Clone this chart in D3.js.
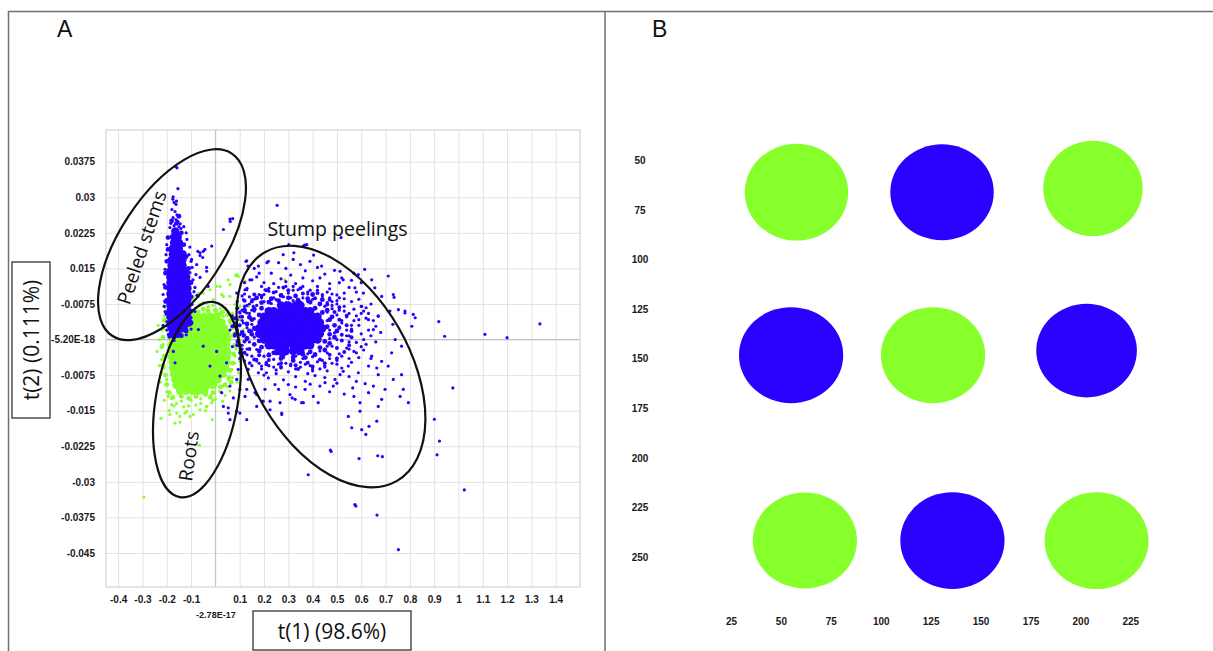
<!DOCTYPE html>
<html>
<head>
<meta charset="utf-8">
<script src="https://cdn.jsdelivr.net/npm/d3@7"></script>
<style>
body { margin: 0; background: #fff; }
svg { display: block; }
.tick-lbl { font-family: "Liberation Sans", Arial, sans-serif; font-size: 10px; font-weight: bold; fill: #1a1a1a; }
.note { font-family: "Open Sans", sans-serif; fill: #111; }
.panel-lbl { font-family: "Liberation Sans", Arial, sans-serif; font-size: 23px; fill: #111; }
</style>
</head>
<body>
<svg id="chart" width="1213" height="651"></svg>
<script>
// ---- panel A data (t(1) given in 1/100, t(2) given in 1/10000) ----
var T1_UNIT = 0.01;
var T2_UNIT = 0.0001;

var xTicks = [-0.4,-0.3,-0.2,-0.1,0,0.1,0.2,0.3,0.4,0.5,0.6,0.7,0.8,0.9,1,1.1,1.2,1.3,1.4];
var xTickLabels = ["-0.4","-0.3","-0.2","-0.1","-2.78E-17","0.1","0.2","0.3","0.4","0.5","0.6","0.7","0.8","0.9","1","1.1","1.2","1.3","1.4"];
var yTicks = [0.0375,0.03,0.0225,0.015,0.0075,0,-0.0075,-0.015,-0.0225,-0.03,-0.0375,-0.045];
var yTickLabels = ["0.0375","0.03","0.0225","0.015","-0.0075","-5.20E-18","-0.0075","-0.015","-0.0225","-0.03","-0.0375","-0.045"];

// dense cores, rows of [t2, [t1 ...]]
var rootsCoreRows = [
  [48,[-12,-9.5,-7,-4.5,-2,0.5]],
  [36,[-15,-12.5,-10,-7.5,-5,-2.5,0,2.5]],
  [24,[-16.5,-14,-11.5,-9,-6.5,-4,-1.5,1,3.5]],
  [12,[-17,-14.5,-12,-9.5,-7,-4.5,-2,0.5,3,4.5]],
  [0,[-17.5,-15,-12.5,-10,-7.5,-5,-2.5,0,2.5,4.8]],
  [-12,[-18,-15.5,-13,-10.5,-8,-5.5,-3,-0.5,2,4.5]],
  [-24,[-18,-15.5,-13,-10.5,-8,-5.5,-3,-0.5,2,4.7]],
  [-36,[-18,-15.5,-13,-10.5,-8,-5.5,-3,-0.5,2,4.7]],
  [-48,[-17.5,-15,-12.5,-10,-7.5,-5,-2.5,0,2.5,4.5]],
  [-60,[-17.5,-15,-12.5,-10,-7.5,-5,-2.5,0,2.5,4]],
  [-72,[-17,-14.5,-12,-9.5,-7,-4.5,-2,0.5,3]],
  [-84,[-16.5,-14,-11.5,-9,-6.5,-4,-1.5,1]],
  [-96,[-16,-13.5,-11,-8.5,-6,-3.5,-1]],
  [-108,[-14.5,-12,-9.5,-7,-4.5]]
];
var stumpCoreRows = [
  [72,[27,30,33,35]],
  [60,[22,24,27,29,32,34,37,39]],
  [48,[20,22,25,27,30,32,35,37,40,42]],
  [36,[19,21,24,26,29,31,34,36,39,41,43]],
  [24,[18,20,23,25,28,30,33,35,38,40,42,44]],
  [12,[18,21,23,26,28,31,33,36,38,41,43]],
  [0,[20,22,25,27,30,32,35,37,40,42]],
  [-12,[22,24,27,29,32,34,37,39]],
  [-24,[26,29,32,35]]
];
var stemsCoreRows = [
  [228,[-16.5]], [216,[-17,-15.5]], [204,[-17,-15]], [192,[-17.5,-15]],
  [180,[-17.5,-15,-13.5]], [168,[-18,-15.5,-13.5]], [156,[-18,-16,-13.5]],
  [144,[-18.5,-16,-13.5,-12.5]], [132,[-18.5,-16,-13.5,-12]],
  [120,[-18.5,-16,-13.5,-11.5]], [108,[-18.5,-16,-13.5,-11.5]], [96,[-18.5,-16,-13.5,-11.5]],
  [84,[-18.5,-16,-13.5,-11.5]], [72,[-18.5,-16,-13.5,-11.5]], [60,[-18.5,-16,-13.5,-11.5]],
  [48,[-18.5,-16,-13.5,-11.5]], [36,[-18,-15.5,-13,-11]], [24,[-18,-15.5,-13]], [12,[-17.5,-15.5]]
];

// crowded edges around the cores
var blueHalo =
  "46,27 47,42 44,57 41,66 39,79 34,83 30,88 26,82 22,79 19,66 18,52 15,42 16,24 15,11 18,-3 19,-16 " +
  "24,-28 28,-32 32,-37 36,-31 39,-26 43,-17 45,-4 47,11 " +
  "49,30 48,48 46,62 43,75 38,86 33,92 27,93 23,86 19,78 16,64 14,47 13,33 14,18 13,3 16,-10 18,-24 " +
  "22,-33 27,-40 32,-44 37,-38 41,-32 45,-22 47,-8 49,5 50,18 17,88 40,95 44,84 12,60 11,15 " +
  "-19.5,215 -14,225 -19.5,190 -13,200 -20,165 -12,175 -20.5,140 -11,150 -20.5,110 -10,120 -20.5,80 " +
  "-10,90 -20,55 -10,60 -19.5,30 -10,35 -19,10 -12,18 -16,245 -18,250 -15,260 -17,5 -14,8";
var blueHaloOuter =
  "51,25 51,42 49,58 46,74 41,87 36,97 30,104 24,99 19,92 15,80 12,64 11,48 10,30 11,12 12,-4 14,-20 " +
  "18,-33 22,-43 27,-50 33,-54 38,-49 43,-42 47,-32 50,-18 52,-2 52,10 " +
  "54,30 54,50 51,68 47,84 42,98 35,108 28,110 21,104 16,95 12,82 9,66 8,45 7,28 8,8 9,-12 12,-28 " +
  "16,-42 21,-52 27,-58 34,-62 40,-57 45,-50 50,-40 53,-26 55,-12 56,5 56,18";
var greenHalo =
  "-19,55 -21,40 -21.5,25 -21.5,5 -22,-15 -21,-35 -21.5,-55 -20.5,-75 -20,-95 -19,-112 -17.5,-122 " +
  "-14,-120 -11,-124 -8,-120 -4,-116 -1,-112 2,-100 4,-95 5.5,-80 6,-65 7,-50 7.5,-30 8,-12 7.5,10 " +
  "7,25 6,40 5,52 3,58 0,62 -3,60 -7,58 -10,57 -15,52 -17,48 -14,60 -5,64 2,54 6.5,-90 -2,-122";

// single observations
var bluePts =
  // peeled stems streak and edges
  "-16.3,365 -15.8,362 -15.4,318 -17.4,301 -17,289 -16.2,285 -17.9,274 -16.6,270 -15.8,263 -17.4,257 -16.2,253 " +
  "-15.4,249 -18.3,245 -17,240 -15,238 -18.7,236 -14.2,234 -12,225 -17.5,296 -16,292 -14.5,244 -13,238 " +
  "-20.3,179 -20.7,148 -21.1,116 -20.3,84 -20.7,59 -19.9,38 -21.5,95 -11.7,211 -10.9,179 -9.6,152 -9.2,126 " +
  "-8.8,101 -9.6,74 -8.4,59 -10,46 -8,137 -7.6,93 -20,200 -19.5,130 -21,70 -10.5,195 -10,165 -20,20 -19,5 " +
  "-17,-2 -21.5,30 -12,10 -10,22 " +
  "6.1,249 7.1,255 3.3,232 -1.5,197 -4.3,190 -6.3,177 -7.2,186 -5.2,173 -7.7,158 -9.8,169 -3.6,152 -6.3,131 " +
  "-3,112 -8.4,110 -7.2,91 -10.5,141 12.6,165 13.4,155 14.2,126 -6.3,183 -5,186 6,254 -3.6,144 " +
  // stump peelings ring
  "18,95 22,102 26,110 30,98 34,105 38,96 42,112 46,100 50,94 24,88 28,90 36,88 44,86 15,84 53,86 20,120 " +
  "27,128 33,118 40,124 47,118 55,110 23,140 31,136 37,145 45,138 52,130 17,132 58,100 29,150 35,158 42,152 " +
  "26,162 49,146 60,120 13,108 11,92 16,150 57,140 " +
  "12,70 14,55 11,40 13,25 12,10 14,-5 13,-20 15,-35 16,60 10,48 15,32 9,20 16,5 11,-12 17,-45 14,75 " +
  "46,78 48,65 50,52 52,40 51,27 49,14 50,0 48,-14 46,-28 53,70 55,55 57,40 56,22 54,8 58,-6 55,-20 52,-35 " +
  "59,30 61,60 60,12 62,45 57,-25 63,20 64,75 47,88 " +
  "20,-35 24,-42 28,-38 32,-45 36,-40 40,-36 44,-44 22,-55 27,-60 31,-52 35,-58 39,-55 43,-62 48,-50 18,-50 " +
  "25,-30 34,-30 41,-30 30,-68 38,-72 46,-66 21,-70 52,-60 " +
  "20,80 25,84 32,82 38,80 43,76 48,72 17,72 15,62 16,44 15,18 16,-10 18,-22 22,-30 27,-34 33,-35 38,-30 " +
  "43,-24 46,-14 47,2 47,20 46,40 46,58 23,76 29,78 35,79 40,85 19,88 44,95 31,88 27,95 39,104 14,90 50,82 45,70 " +
  "19,112 24,118 29,122 36,130 43,130 51,120 56,125 32,112 47,107 53,98 59,85 60,70 63,55 65,40 66,28 64,8 " +
  "62,-10 61,-22 59,-38 56,-48 50,-44 45,-55 40,-62 35,-48 29,-50 24,-58 19,-62 15,-55 12,-45 10,-28 9,-5 " +
  "10,10 11,62 8,35 12,120 18,140 67,50 68,15 66,-5 64,-40 " +
  "52,35 54,48 51,62 48,80 44,92 38,100 32,104 25,101 20,95 16,85 13,72 10,58 9,42 8,28 8,12 9,-3 11,-20 " +
  "13,-32 17,-42 21,-48 26,-52 31,-55 37,-52 42,-47 47,-40 51,-30 54,-18 55,-5 55,8 54,20 53,60 50,75 56,30 " +
  "58,50 57,64 22,108 29,112 36,112 42,104 48,96 12,96 9,80 7,50 6,20 7,-15 10,-40 14,-50 19,-56 25,-64 " +
  "33,-62 40,-66 45,-58 50,-52 55,-40 58,-28 60,-15 61,0 59,42 60,55 62,67 56,80 51,88 " +
  // stump peelings outer and outliers
  "21.8,165 27.9,179 32,169 36.2,197 37.6,200 30.2,200 38.9,165 43.7,155 51.3,144 52.6,126 57.4,109 58.8,137 " +
  "60.9,98 64.3,126 68.4,91 71.8,60 75.3,63 78,60 81.4,53 73,32 67,49 63,42 65,21 74,0 76.6,-14 72.5,-28 " +
  "68.4,-46 64.3,-35 66.4,-60 80.8,28 60.2,70 17.7,155 15,126 12.2,105 20.4,105 12.9,56 11.5,7 10.8,-35 13.5,-63 " +
  "25.4,283 51.7,215 36.7,199 40.4,178 32.3,183 61.4,148 21.2,162 12.9,166 73.2,95 73.5,89 78,56 82.2,46 " +
  "91.9,38 94.3,7 110.9,11 120,4 133.5,33 65.6,109 71.1,134 " +
  "17.7,-70 21.8,-81 24.5,-95 20.4,-105 16.3,-112 22.5,-130 26.6,-133 27.3,-158 30.7,-116 32.8,-126 35.5,-133 " +
  "36.9,-105 40.3,-120 42.3,-133 43,-98 45.1,-91 48.5,-98 49.2,-84 51.3,-74 52.6,-67 54.7,-56 56.5,-102 " +
  "59.5,-133 59.5,-151 54.7,-162 56.1,-186 60.2,-190 61.9,-200 63.2,-183 66.4,-172 61.6,-93 63,-112 65,-98 " +
  "67,-141 68.4,-126 69.8,-105 73.2,-84 76,-120 77.3,-105 79.4,-133 76.6,-74 71.1,-56 67,-74 63,-56 58.8,-70 " +
  "47.3,-233 38.2,-285 59.1,-251 66.8,-245 68.7,-247 57.4,-348 " +
  "20,-75 25,-72 28,-85 33,-78 37,-88 41,-76 45,-80 50,-92 55,-78 58,-88 30,-95 26,-105 33,-100 39,-94 " +
  "47,-110 53,-115 57,-120 " +
  "57.8,-351 66.5,-370 75.3,-443 102.4,-317 90.1,-168 92.2,-214 91.2,-243 97.7,-102 47.6,-236 " +
  // blue points among the roots
  "-2.2,-56 1.9,-77 2.6,-112 6,-98 7.4,-123 5.3,-144 8.8,-151 10.1,-105 12.2,-120 -5,-14 -7,21 0.5,-25 " +
  "4.6,-49 -17.3,-25 -16.6,-49 10.1,56 11.5,35 12.9,0 10.8,-28 14.2,-49 9.4,-63 13.5,-84 8.8,-84 11.5,84 " +
  "8.8,98 12.9,105 15.6,70 16.3,21 17,-21 10.1,-155 12.9,-169 17,-141 8.8,28 3.3,-141 5.3,-155 6,-169 " +
  "12.9,-105 27.3,-155 22.5,-148 19.7,-130 17,-116 31.6,-123 36.2,-133";

var greenPts =
  "-20.7,67 -20,35 -22.1,-42 -20,-84 -19.4,-120 -18,-137 -15.9,-155 -14.6,-162 -11.8,-151 -9.1,-158 -3.6,-141 " +
  "-1.5,-133 1.9,-109 3.3,-98 5.3,-84 6.7,-63 8.1,-35 8.8,-7 8.1,14 6,35 3.3,49 0.5,60 -2.9,70 -6.3,74 " +
  "-9.1,84 -0.9,84 2.6,95 -5,98 0.5,112 6,91 10.1,70 10.1,42 11.5,21 6,116 -8.4,109 -10.5,95 " +
  "8.8,137 5.3,126 1.9,112 -2.2,105 3.3,91 -7,98 -10.5,77 -9.1,91 -21.4,70 8.3,135 " +
  "-22.4,-166 -16.6,-176 -14.6,-174 -6.6,-223 -1.3,-169 -29.4,-332 -18.7,-158 -12.5,-155 -10.5,-162 " +
  "-6.3,-148 -3.6,-141 5.3,14 6.7,7 8.1,-14 6,-28 8.8,28 10.1,0 9.4,133 12.2,123 8.1,74 13.5,70 " +
  "28.6,126 33.5,81 -21,50 -22,20 -21.5,-10 -21,-60 -20.5,-95 -18,-125 -14,-130 -10,-128 -6,-125 " +
  "-2,-118 2,-110 5,-100 7,-80 8,-50 8.5,-20 8,10 7,30 5,55 2,65 -3,68 -8,66 -13,62 -17,55 -20,45 " +
  "-17,-140 -13,-142 -8,-138 -4,-150 0,-125 3,-130 -20,-110 -22,-70 -23,0 -19,-150 " +
  "-23.5,30 -24,-25 -23,-55 -22.5,-90 -21,-128 -16,-135 -11,-140 -6,-135 -1,-128 4,-118 6,-108 " +
  "9,-90 9.5,-70 10,-45 10,-25 9.5,-2 9,18 9,40 7,55 4,66 -1,72 -5,78 -11,70 -15,66 -19,64";

// ---- panel B data ----
var bTicks = [25,50,75,100,125,150,175,200,225,250];
var bX = [57.8,130.7,206.3,55.1,126.2,203.1,62.0,135.9,208.1];
var bY = [66.0,66.0,64.1,148.2,148.2,145.9,241.7,241.7,241.8];
var bRx = [25.9,25.9,24.9,26.1,26.1,25.2,26.1,26.1,26.0];
var bRy = [24.4,24.2,24.0,24.2,24.2,23.6,24.2,24.4,24.4];
var bGroup = ["g","b","g","b","g","b","g","b","g"];

var BLUE = "#2a00ff";
var GREEN = "#86ff2a";

var svg = d3.select('#chart');

function parsePts(str){
  return str.trim().split(/\s+/).map(function(s){
    var p = s.split(',');
    return [+p[0] * T1_UNIT, +p[1] * T2_UNIT];
  });
}
function parseRows(rows){
  var out = [];
  rows.forEach(function(r){
    r[1].forEach(function(x){ out.push([x * T1_UNIT, r[0] * T2_UNIT]); });
  });
  return out;
}

// frame lines
svg.append('line').attr('x1',8).attr('x2',1213).attr('y1',11.5).attr('y2',11.5).attr('stroke','#707070').attr('stroke-width',1.5);
svg.append('line').attr('x1',8.5).attr('x2',8.5).attr('y1',11).attr('y2',651).attr('stroke','#707070').attr('stroke-width',1.5);
svg.append('line').attr('x1',605).attr('x2',605).attr('y1',11).attr('y2',651).attr('stroke','#707070').attr('stroke-width',1.5);

svg.append('text').attr('class','panel-lbl').attr('x',57).attr('y',37).text('A');
svg.append('text').attr('class','panel-lbl').attr('x',652).attr('y',37).text('B');

// ===== panel A =====
var ax = d3.scaleLinear().domain([-0.45, 1.5]).range([106, 580]);
var ay = d3.scaleLinear().domain([-0.05217, 0.04418]).range([587, 130]);

var gridX = svg.append('g').attr('class','grid-x').attr('transform','translate(0,587)')
  .call(d3.axisBottom(ax).tickValues(xTicks).tickSize(-457).tickFormat(''));
var gridY = svg.append('g').attr('class','grid-y').attr('transform','translate(106,0)')
  .call(d3.axisLeft(ay).tickValues(yTicks).tickSize(-474).tickFormat(''));
svg.selectAll('.grid-x .domain, .grid-y .domain').remove();
svg.selectAll('.grid-x line, .grid-y line').attr('stroke','#e2e2e2').attr('stroke-width',1);

// zero lines
svg.append('line').attr('x1',ax(0)).attr('x2',ax(0)).attr('y1',130).attr('y2',587).attr('stroke','#c2c2c2');
svg.append('line').attr('x1',106).attr('x2',580).attr('y1',ay(0)).attr('y2',ay(0)).attr('stroke','#bdbdbd');
svg.append('rect').attr('x',106).attr('y',130).attr('width',474).attr('height',457)
  .attr('fill','none').attr('stroke','#cccccc');

// tick labels
var yAxisA = svg.append('g').attr('transform','translate(106,0)')
  .call(d3.axisLeft(ay).tickValues(yTicks).tickSize(0).tickPadding(11).tickFormat(function(d,i){ return yTickLabels[i]; }));
yAxisA.select('.domain').remove();
yAxisA.selectAll('text').attr('class','tick-lbl').attr('font-family',null).attr('font-size',null);

var xAxisA = svg.append('g').attr('transform','translate(0,587)')
  .call(d3.axisBottom(ax).tickValues(xTicks).tickSize(0).tickPadding(9).tickFormat(function(d,i){ return xTickLabels[i]; }));
xAxisA.select('.domain').remove();
xAxisA.selectAll('text').attr('class','tick-lbl').attr('font-family',null).attr('font-size',null)
  .filter(function(d){ return d === 0; }).attr('y',25).style('font-size','9px');

// points: green first, blue on top
var pts = svg.append('g');
function drawDots(cls, data, r, color){
  pts.selectAll('.' + cls).data(data).enter().append('circle').attr('class',cls)
    .attr('cx',function(d){ return ax(d[0]); }).attr('cy',function(d){ return ay(d[1]); })
    .attr('r',r).attr('fill',color);
}
drawDots('gc', parseRows(rootsCoreRows), 4.2, GREEN);
drawDots('gh', parsePts(greenHalo), 2.4, GREEN);
drawDots('gs', parsePts(greenPts), 1.6, GREEN);
drawDots('bc', parseRows(stumpCoreRows).concat(parseRows(stemsCoreRows)), 4.2, BLUE);
drawDots('bh', parsePts(blueHalo), 2.4, BLUE);
drawDots('bo', parsePts(blueHaloOuter), 2.0, BLUE);
drawDots('bs', parsePts(bluePts), 1.6, BLUE);

// group outlines (centre in data units, radii in px, rotation in degrees)
var outlines = [
  {cx:-0.1785, cy:0.0200, a:109, b:52, rot:-56.7},
  {cx:-0.0757, cy:-0.01265, a:99, b:41, rot:-80},
  {cx:0.4755, cy:-0.00569, a:132, b:78, rot:60}
];
outlines.forEach(function(o){
  svg.append('ellipse')
    .attr('transform','translate(' + ax(o.cx) + ',' + ay(o.cy) + ') rotate(' + o.rot + ')')
    .attr('rx',o.a).attr('ry',o.b)
    .attr('fill','none').attr('stroke','#111').attr('stroke-width',2.2);
});

svg.append('text').attr('class','note').attr('font-size',19)
  .attr('text-anchor','middle').attr('dominant-baseline','central')
  .attr('transform','translate(141.5,247.5) rotate(-71.6)').text('Peeled stems');
svg.append('text').attr('class','note').attr('font-size',19)
  .attr('text-anchor','middle').attr('dominant-baseline','central')
  .attr('transform','translate(188.5,456) rotate(-82)').text('Roots');
svg.append('text').attr('class','note').attr('font-size',19.5)
  .attr('text-anchor','middle').attr('x',337.5).attr('y',236).text('Stump peelings');

// axis titles in boxes
svg.append('rect').attr('x',12).attr('y',262).attr('width',38).attr('height',156)
  .attr('fill','#fff').attr('stroke','#333').attr('stroke-width',1.3);
svg.append('text').attr('class','note').attr('font-size',21)
  .attr('text-anchor','middle').attr('dominant-baseline','central')
  .attr('transform','translate(31,340) rotate(-90)').text('t(2) (0.111%)');
svg.append('rect').attr('x',253).attr('y',611).attr('width',158).attr('height',39)
  .attr('fill','#fff').attr('stroke','#333').attr('stroke-width',1.3);
svg.append('text').attr('class','note').attr('font-size',21)
  .attr('text-anchor','middle').attr('dominant-baseline','central')
  .attr('x',332).attr('y',631).text('t(1) (98.6%)');

// ===== panel B =====
var bx = d3.scaleLinear().domain([25,225]).range([731,1130.3]);
var by = d3.scaleLinear().domain([50,250]).range([160.5,557]);

var yAxisB = svg.append('g').attr('transform','translate(640,0)')
  .call(d3.axisLeft(by).tickValues(bTicks.filter(function(v){ return v >= 50; })).tickSize(0).tickPadding(0));
yAxisB.select('.domain').remove();
yAxisB.selectAll('text').attr('class','tick-lbl').attr('font-family',null).attr('font-size',null).attr('text-anchor','middle');

var xAxisB = svg.append('g').attr('transform','translate(0,614)')
  .call(d3.axisBottom(bx).tickValues(bTicks.filter(function(v){ return v <= 225; })).tickSize(0).tickPadding(4));
xAxisB.select('.domain').remove();
xAxisB.selectAll('text').attr('class','tick-lbl').attr('font-family',null).attr('font-size',null);

svg.append('g').selectAll('ellipse').data(bX).enter().append('ellipse')
  .attr('cx',function(d){ return bx(d); })
  .attr('cy',function(d,i){ return by(bY[i]); })
  .attr('rx',function(d,i){ return bx(d + bRx[i]) - bx(d); })
  .attr('ry',function(d,i){ return by(bY[i] + bRy[i]) - by(bY[i]); })
  .attr('fill',function(d,i){ return bGroup[i] === 'b' ? BLUE : GREEN; });
</script>
</body>
</html>
